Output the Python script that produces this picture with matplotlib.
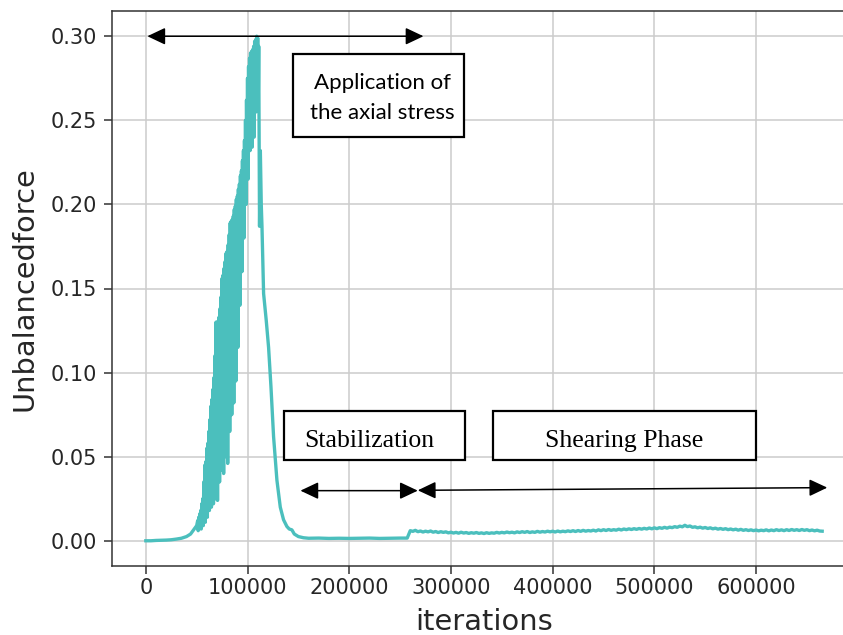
import matplotlib
matplotlib.use("Agg")
import matplotlib.pyplot as plt
from matplotlib.patches import Rectangle, ArrowStyle

# ---------------- data ----------------
# quiet start
rise_x = [0, 5000, 10000, 15000, 20000, 25000, 30000, 35000, 40000, 44000, 47000, 50000]
rise_y = [0.0, 0.0, 0.0002, 0.0003, 0.0004, 0.0006, 0.0010, 0.0015, 0.0025, 0.0040, 0.0065, 0.0090]

# oscillating loading phase
peak_x = [
    51000, 51500, 52000, 52500, 53000, 53500, 54000, 54500, 55000, 55500,
    56000, 56500, 57000, 57500, 58000, 58500, 59000, 59500, 60000, 60500,
    61000, 61500, 62000, 62500, 63000, 63500, 64000, 64500, 65000, 65500,
    66000, 66500, 67000, 67500, 68000, 68500, 69000, 69500, 70000, 70500,
    71000, 71500, 72000, 72500, 73000, 73500, 74000, 74500, 75000, 75500,
    76000, 76500, 77000, 77500, 78000, 78500, 79000, 79500, 80000, 80500,
    81000, 81500, 82000, 82500, 83000, 83500, 84000, 84500, 85000, 85500,
    86000, 86500, 87000, 87500, 88000, 88500, 89000, 89500, 90000, 90500,
    91000, 91500, 92000, 92500, 93000, 93500, 94000, 94500, 95000, 95500,
    96000, 96500, 97000, 97500, 98000, 98500, 99000, 99500, 100000, 100500,
    101000, 101500, 102000, 102500, 103000, 103500, 104000, 104500, 105000, 105500,
    106000, 106500, 107000, 107500, 108000, 108500, 109000, 109500, 110000, 110500,
    111000, 111800, 112600, 113500,
]
peak_y = [
    0.012, 0.006, 0.014, 0.007, 0.016, 0.008, 0.018, 0.007, 0.022, 0.010,
    0.025, 0.009, 0.035, 0.012, 0.045, 0.011, 0.047, 0.016, 0.055, 0.014,
    0.058, 0.020, 0.065, 0.018, 0.072, 0.024, 0.080, 0.020, 0.084, 0.026,
    0.090, 0.022, 0.097, 0.030, 0.110, 0.025, 0.130, 0.034, 0.130, 0.024,
    0.128, 0.040, 0.133, 0.035, 0.138, 0.050, 0.145, 0.042, 0.156, 0.055,
    0.158, 0.040, 0.162, 0.060, 0.166, 0.050, 0.171, 0.065, 0.172, 0.046,
    0.176, 0.070, 0.182, 0.065, 0.189, 0.080, 0.190, 0.075, 0.191, 0.090,
    0.193, 0.082, 0.197, 0.105, 0.199, 0.095, 0.203, 0.125, 0.205, 0.115,
    0.209, 0.145, 0.212, 0.140, 0.217, 0.165, 0.220, 0.160, 0.226, 0.185,
    0.232, 0.180, 0.238, 0.205, 0.250, 0.200, 0.262, 0.225, 0.275, 0.215,
    0.282, 0.240, 0.287, 0.232, 0.290, 0.238, 0.291, 0.234, 0.292, 0.250,
    0.294, 0.240, 0.297, 0.262, 0.298, 0.255, 0.300, 0.265, 0.299, 0.258,
    0.294, 0.187, 0.232, 0.200,
]

# decay and stabilization
fall_x = [114200, 115800, 118400, 120700, 123000, 125600, 128900, 132200, 135400, 138700,
          141000, 143600, 146000, 150000, 155000, 160000, 170000, 180000, 190000, 200000,
          210000, 220000, 230000, 240000, 250000, 257000]
fall_y = [0.187, 0.147, 0.131, 0.115, 0.092, 0.062, 0.036, 0.020, 0.0125, 0.0085,
          0.0070, 0.0065, 0.0040, 0.0025, 0.0018, 0.0015, 0.0016, 0.0014, 0.0015, 0.0014,
          0.0015, 0.0016, 0.0014, 0.0015, 0.0016, 0.0016]

# shearing phase
shear_x = [
    260000, 262500, 265000, 267500, 270000, 272500, 275000, 277500, 280000, 282500,
    285000, 287500, 290000, 292500, 295000, 297500, 300000, 302500, 305000, 307500,
    310000, 312500, 315000, 317500, 320000, 322500, 325000, 327500, 330000, 332500,
    335000, 337500, 340000, 342500, 345000, 347500, 350000, 352500, 355000, 357500,
    360000, 362500, 365000, 367500, 370000, 372500, 375000, 377500, 380000, 382500,
    385000, 387500, 390000, 392500, 395000, 397500, 400000, 402500, 405000, 407500,
    410000, 412500, 415000, 417500, 420000, 422500, 425000, 427500, 430000, 432500,
    435000, 437500, 440000, 442500, 445000, 447500, 450000, 452500, 455000, 457500,
    460000, 462500, 465000, 467500, 470000, 472500, 475000, 477500, 480000, 482500,
    485000, 487500, 490000, 492500, 495000, 497500, 500000, 502500, 505000, 507500,
    510000, 512500, 515000, 517500, 520000, 522500, 525000, 527500, 530000, 532500,
    535000, 537500, 540000, 542500, 545000, 547500, 550000, 552500, 555000, 557500,
    560000, 562500, 565000, 567500, 570000, 572500, 575000, 577500, 580000, 582500,
    585000, 587500, 590000, 592500, 595000, 597500, 600000, 602500, 605000, 607500,
    610000, 612500, 615000, 617500, 620000, 622500, 625000, 627500, 630000, 632500,
    635000, 637500, 640000, 642500, 645000, 647500, 650000, 652500, 655000, 657500,
    660000, 662500, 665000,
]
shear_y = [
    0.0060, 0.0056, 0.0062, 0.0054, 0.0058, 0.0052, 0.0057, 0.0053, 0.0058, 0.0051,
    0.0055, 0.0049, 0.0054, 0.0050, 0.0053, 0.0047, 0.0051, 0.0046, 0.0050, 0.0045,
    0.0051, 0.0046, 0.0049, 0.0044, 0.0048, 0.0045, 0.0049, 0.0044, 0.0047, 0.0043,
    0.0048, 0.0044, 0.0047, 0.0045, 0.0050, 0.0046, 0.0050, 0.0047, 0.0052, 0.0048,
    0.0051, 0.0047, 0.0053, 0.0049, 0.0054, 0.0050, 0.0055, 0.0049, 0.0053, 0.0050,
    0.0056, 0.0051, 0.0055, 0.0052, 0.0057, 0.0053, 0.0057, 0.0052, 0.0058, 0.0053,
    0.0057, 0.0054, 0.0059, 0.0055, 0.0060, 0.0055, 0.0061, 0.0056, 0.0062, 0.0057,
    0.0061, 0.0058, 0.0063, 0.0058, 0.0065, 0.0060, 0.0066, 0.0061, 0.0067, 0.0062,
    0.0066, 0.0063, 0.0069, 0.0064, 0.0070, 0.0066, 0.0071, 0.0067, 0.0072, 0.0068,
    0.0073, 0.0069, 0.0074, 0.0070, 0.0076, 0.0071, 0.0077, 0.0072, 0.0078, 0.0074,
    0.0080, 0.0075, 0.0081, 0.0078, 0.0084, 0.0080, 0.0087, 0.0083, 0.0092, 0.0084,
    0.0088, 0.0080, 0.0083, 0.0077, 0.0081, 0.0075, 0.0079, 0.0073, 0.0077, 0.0071,
    0.0075, 0.0069, 0.0073, 0.0068, 0.0072, 0.0066, 0.0070, 0.0065, 0.0069, 0.0063,
    0.0068, 0.0062, 0.0066, 0.0061, 0.0065, 0.0060, 0.0064, 0.0059, 0.0063, 0.0060,
    0.0065, 0.0059, 0.0064, 0.0060, 0.0066, 0.0061, 0.0065, 0.0060, 0.0066, 0.0061,
    0.0067, 0.0062, 0.0066, 0.0061, 0.0067, 0.0062, 0.0066, 0.0060, 0.0064, 0.0059,
    0.0063, 0.0058, 0.0057,
]

xticks = [0, 100000, 200000, 300000, 400000, 500000, 600000]
yticks = [0.00, 0.05, 0.10, 0.15, 0.20, 0.25, 0.30]
xlabel = "iterations"
ylabel = "Unbalancedforce"
phase_labels = ["Application of", "the axial stress", "Stabilization", "Shearing Phase"]

iterations = rise_x + peak_x + fall_x + shear_x
unbalanced_force = rise_y + peak_y + fall_y + shear_y

# ---------------- figure ----------------
W, H = 843, 635
fig = plt.figure(figsize=(W / 100, H / 100), dpi=100)
ax = fig.add_axes([112 / W, 69 / H, (856 - 112) / W, (566 - 11) / H])

line_color = "#4bbfbd"
ax.plot(iterations, unbalanced_force, color=line_color, lw=2.4, zorder=3)

ax.set_xlim(-33250, 698250)
ax.set_ylim(-0.015, 0.315)
ax.set_xticks(xticks)
ax.set_xticklabels([str(t) for t in xticks])
ax.set_yticks(yticks)
ax.set_yticklabels([f"{t:.2f}" for t in yticks])

ax.grid(True, color="#cccccc", lw=1.1, zorder=0)
ax.set_axisbelow(True)
for s in ax.spines.values():
    s.set_color("#333333")
    s.set_linewidth(1.1)
ax.tick_params(axis="both", direction="out", length=5.5, width=1.1, color="#333333",
               labelsize=15, labelcolor="#262626")
ax.tick_params(axis="y", pad=5)
ax.tick_params(axis="x", pad=3)

ax.set_xlabel(xlabel, fontsize=20.8, color="#262626", labelpad=7)
ax.set_ylabel(ylabel, fontsize=20.8, color="#262626", labelpad=9)

# ---------------- annotation boxes ----------------
def box(x0, x1, y0, y1):
    ax.add_patch(Rectangle((x0, y0), x1 - x0, y1 - y0, facecolor="white",
                           edgecolor="black", lw=1.6, zorder=5))

box(145000, 313200, 0.2400, 0.2894)
ax.text(233000, 0.2686, phase_labels[0], ha="center", va="baseline",
        family="Lato", fontsize=16, color="black", zorder=6)
ax.text(233000, 0.2506, phase_labels[1], ha="center", va="baseline",
        family="Lato", fontsize=16, color="black", zorder=6)

box(136000, 314000, 0.0482, 0.0770)
ax.text(220000, 0.0560, phase_labels[2], ha="center", va="baseline",
        family="Liberation Serif", fontsize=18.5, color="black", zorder=6)

box(341700, 600000, 0.0482, 0.0770)
ax.text(470500, 0.0560, phase_labels[3], ha="center", va="baseline",
        family="Liberation Serif", fontsize=18.5, color="black", zorder=6)

# ---------------- arrows ----------------
astyle = ArrowStyle("<|-|>", head_length=0.55, head_width=0.26)
def arrow(xa, ya, xb, yb):
    ax.annotate("", xy=(xb, yb), xytext=(xa, ya),
                arrowprops=dict(arrowstyle=astyle, mutation_scale=20, color="black",
                                lw=1.1, shrinkA=0, shrinkB=0), zorder=6)

arrow(1500, 0.300, 273000, 0.300)
arrow(152000, 0.0298, 267400, 0.0298)
arrow(267400, 0.0300, 670000, 0.0316)

fig.savefig("out.png", dpi=100)
